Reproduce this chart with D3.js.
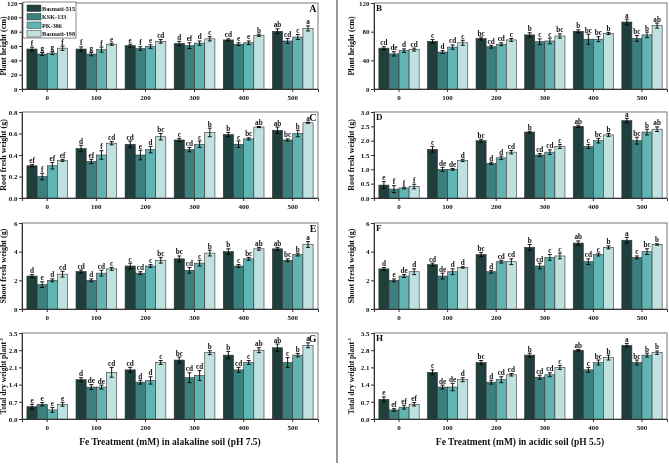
<!DOCTYPE html>
<html>
<head>
<meta charset="utf-8">
<script src="https://cdn.jsdelivr.net/npm/d3@7"></script>
<style>
  body { margin: 0; background: #fff; }
  svg { display: block; will-change: transform; }
  text { font-family: "Liberation Serif", "Times New Roman", serif; font-weight: bold; fill: #111; }
</style>
</head>
<body>
<div id="chart"></div>
<script>
// ---- data ----
var doses = ["0", "100", "200", "300", "400", "500"];
var cultivars = ["Basmati-515", "KSK-133", "PK-386", "Basmati-198"];
var colors = ["#1f3f3d", "#3b807e", "#62b4b2", "#c0e1df"];

// rows = dose, columns = cultivar
var heightAlk = [[55.8,48.8,50,57],[55.8,48.8,55,62.5],[60.5,56.5,59.3,66.5],[63.5,60.5,64,70],[68.5,62.5,64.5,75],[80.5,67,72.5,84.5]];
var heightAlkErr = [[2.5,2,2,3],[3,2.5,3.5,1.5],[2,2.5,2.5,2.5],[3,4,3,3],[1.5,2,2.5,1.5],[3.5,3.5,3.5,3.5]];
var heightAlkLet = [["f","g","g","f"],["f","g","f","e"],["e","f","e","cd"],["d","ef","d","c"],["cd","e","e","b"],["ab","cd","c","a"]];

var heightAcid = [[57,49,53.5,55],[66.5,51.5,58.5,64.5],[70.5,59,62.5,68.5],[75.5,66,67,74],[80.5,69.5,69.5,77.5],[93.5,70.5,75.5,88.5]];
var heightAcidErr = [[2,3,2.5,2],[2.5,2,3,3.5],[2,2,2,2],[3,4,4,3],[2,7,3.5,1.5],[4,4,4,3.5]];
var heightAcidLet = [["cd","de","d","cd"],["c","d","cd","c"],["bc","cd","cd","c"],["b","c","c","bc"],["b","bc","bc","b"],["a","bc","b","ab"]];

var rootAlk = [[0.3,0.2,0.3,0.35],[0.46,0.34,0.4,0.51],[0.5,0.4,0.45,0.57],[0.54,0.45,0.5,0.61],[0.59,0.5,0.55,0.66],[0.63,0.54,0.6,0.7]];
var rootAlkErr = [[0.01,0.03,0.03,0.01],[0.03,0.02,0.04,0.015],[0.03,0.045,0.03,0.03],[0.015,0.02,0.03,0.04],[0.02,0.03,0.01,0.005],[0.03,0.01,0.03,0.005]];
var rootAlkLet = [["ef","f","ef","ef"],["d","ef","f","cd"],["cd","e","d","bc"],["c","cd","c","b"],["b","c","bc","ab"],["ab","bc","b","a"]];

var rootAcid = [[0.45,0.31,0.35,0.4],[1.7,1.0,1.0,1.31],[2.0,1.21,1.4,1.6],[2.3,1.5,1.6,1.8],[2.5,1.8,2.0,2.2],[2.7,2.0,2.3,2.4]];
var rootAcidErr = [[0.12,0.12,0.03,0.08],[0.1,0.07,0.03,0.04],[0.05,0.04,0.06,0.06],[0.03,0.05,0.08,0.07],[0.04,0.07,0.08,0.05],[0.08,0.12,0.1,0.08]];
var rootAcidLet = [["e","f","f","f"],["c","de","de","d"],["bc","d","d","cd"],["b","cd","cd","c"],["ab","c","bc","b"],["a","bc","b","ab"]];

var shootAlk = [[2.3,1.7,2.0,2.43],[2.62,2.0,2.5,2.8],[3.0,2.5,3.0,3.4],[3.5,2.7,3.2,3.9],[4.0,3.0,3.5,4.2],[4.2,3.4,3.8,4.5]];
var shootAlkErr = [[0.1,0.2,0.1,0.2],[0.1,0.1,0.2,0.1],[0.2,0.1,0.1,0.2],[0.2,0.2,0.2,0.2],[0.2,0.1,0.1,0.1],[0.1,0.1,0.1,0.2]];
var shootAlkLet = [["d","e","d","cd"],["cd","d","cd","c"],["c","cd","c","bc"],["bc","cd","c","b"],["b","c","bc","ab"],["ab","bc","b","a"]];

var shootAcid = [[2.8,2.0,2.3,2.6],[3.1,2.3,2.6,2.9],[3.8,2.6,3.3,3.3],[4.3,3.0,3.6,3.7],[4.6,3.3,3.8,4.3],[4.8,3.6,4.0,4.5]];
var shootAcidErr = [[0.1,0.1,0.1,0.2],[0.1,0.2,0.2,0.05],[0.15,0.1,0.1,0.2],[0.2,0.2,0.2,0.2],[0.15,0.2,0.1,0.1],[0.2,0.1,0.2,0.05]];
var shootAcidLet = [["d","e","de","d"],["cd","de","d","d"],["bc","d","cd","cd"],["b","cd","c","c"],["ab","cd","c","b"],["a","c","bc","b"]];

var dryAlk = [[0.5,0.6,0.37,0.6],[1.6,1.3,1.3,1.9],[2.0,1.5,1.57,2.3],[2.4,1.68,1.77,2.7],[2.6,2.0,2.3,2.8],[2.9,2.3,2.6,3.0]];
var dryAlkErr = [[0.1,0.07,0.1,0.08],[0.08,0.1,0.08,0.2],[0.1,0.08,0.15,0.08],[0.12,0.2,0.2,0.08],[0.15,0.1,0.08,0.1],[0.15,0.2,0.07,0.1]];
var dryAlkLet = [["e","e","e","e"],["d","de","de","cd"],["cd","d","d","c"],["bc","cd","cd","b"],["b","cd","c","ab"],["ab","c","b","a"]];

var dryAcid = [[0.8,0.37,0.48,0.6],[1.9,1.3,1.3,1.6],[2.3,1.5,1.6,1.8],[2.6,1.7,1.8,2.1],[2.8,2.0,2.3,2.5],[3.0,2.3,2.6,2.7]];
var dryAcidErr = [[0.1,0.05,0.08,0.07],[0.1,0.08,0.15,0.08],[0.08,0.08,0.12,0.05],[0.08,0.08,0.08,0.08],[0.03,0.1,0.1,0.1],[0.07,0.1,0.08,0.07]];
var dryAcidLet = [["e","ef","ef","ef"],["c","de","de","d"],["bc","d","cd","cd"],["b","cd","cd","c"],["ab","c","bc","b"],["a","bc","b","b"]];

var W = 669, H = 466;
var svg = d3.select("#chart").append("svg").attr("width", W).attr("height", H);

// layout for the two columns and four rows
var cols = [{x0: 22, x1: 318, tag: "right", titleOff: 16}, {x0: 374, x1: 667, tag: "left", titleOff: 20}];
var rows = [{y0: 3, y1: 89}, {y0: 112, y1: 198}, {y0: 223, y1: 309}, {y0: 333, y1: 419}];

var panels = [
  {c: 0, r: 0, id: "A", data: heightAlk, err: heightAlkErr, lets: heightAlkLet, max: 120, ticks: [0,20,40,60,80,100,120], fmt: "d", title: "Plant height (cm)", legend: true},
  {c: 1, r: 0, id: "B", data: heightAcid, err: heightAcidErr, lets: heightAcidLet, max: 120, ticks: [0,40,80,120], fmt: "d", title: "Plant height (cm)"},
  {c: 0, r: 1, id: "C", data: rootAlk, err: rootAlkErr, lets: rootAlkLet, max: 0.8, ticks: [0,0.2,0.4,0.6,0.8], fmt: ".1f", title: "Root fresh weight (g)"},
  {c: 1, r: 1, id: "D", data: rootAcid, err: rootAcidErr, lets: rootAcidLet, max: 3, ticks: [0,0.5,1,1.5,2,2.5,3], fmt: ".1f", title: "Root fresh weight (g)"},
  {c: 0, r: 2, id: "E", data: shootAlk, err: shootAlkErr, lets: shootAlkLet, max: 6, ticks: [0,2,4,6], fmt: "d", title: "Shoot fresh weight (g)"},
  {c: 1, r: 2, id: "F", data: shootAcid, err: shootAcidErr, lets: shootAcidLet, max: 6, ticks: [0,2,4,6], fmt: "d", title: "Shoot fresh weight (g)"},
  {c: 0, r: 3, id: "G", data: dryAlk, err: dryAlkErr, lets: dryAlkLet, max: 3.5, ticks: [0,0.7,1.4,2.1,2.8,3.5], fmt: ".1f", title: "Total dry weight plant", sup: true},
  {c: 1, r: 3, id: "H", data: dryAcid, err: dryAcidErr, lets: dryAcidLet, max: 3.5, ticks: [0,0.7,1.4,2.1,2.8,3.5], fmt: ".1f", title: "Total dry weight plant", sup: true}
];

panels.forEach(function(p) {
  var col = cols[p.c], row = rows[p.r];
  var x = d3.scaleBand().domain(doses).range([col.x0, col.x1]).paddingInner(0.17).paddingOuter(0.1);
  var xs = d3.scaleBand().domain(d3.range(4)).range([0, x.bandwidth()]);
  var y = d3.scaleLinear().domain([0, p.max]).range([row.y1, row.y0]);
  var g = svg.append("g");

  // frame
  g.append("rect").attr("x", col.x0).attr("y", row.y0)
    .attr("width", col.x1 - col.x0).attr("height", row.y1 - row.y0)
    .attr("fill", "none").attr("stroke", "#555").attr("stroke-width", 0.8);

  // bars
  p.data.forEach(function(vals, i) {
    vals.forEach(function(v, j) {
      var bx = x(doses[i]) + xs(j), bw = xs.bandwidth();
      g.append("rect").attr("x", bx).attr("y", y(v))
        .attr("width", bw).attr("height", y(0) - y(v))
        .attr("fill", colors[j]).attr("stroke", "#333").attr("stroke-width", 0.6);
      var cx = bx + bw / 2, e = p.err[i][j];
      g.append("line").attr("x1", cx).attr("x2", cx).attr("y1", y(v - e)).attr("y2", y(v + e))
        .attr("stroke", "#000").attr("stroke-width", 0.9);
      [v - e, v + e].forEach(function(t) {
        g.append("line").attr("x1", cx - 2).attr("x2", cx + 2).attr("y1", y(t)).attr("y2", y(t))
          .attr("stroke", "#000").attr("stroke-width", 0.9);
      });
      g.append("text").attr("x", cx).attr("y", y(v + e) - 1.5)
        .attr("text-anchor", "middle").attr("font-size", 7.2).text(p.lets[i][j]);
    });
  });

  // axes
  var ya = g.append("g").attr("transform", "translate(" + col.x0 + ",0)")
    .call(d3.axisLeft(y).tickValues(p.ticks).tickFormat(d3.format(p.fmt)).tickSize(3).tickPadding(1.5));
  var xa = g.append("g").attr("transform", "translate(0," + row.y1 + ")")
    .call(d3.axisBottom(x).tickSize(3).tickPadding(3));
  [ya, xa].forEach(function(a) {
    a.select(".domain").attr("stroke", "#333");
    a.selectAll("line").attr("stroke", "#333");
    a.selectAll("text").attr("font-family", "Liberation Serif, serif").attr("font-weight", "bold")
      .attr("font-size", 7).attr("fill", "#111");
  });

  // y title
  var tx = col.x0 - col.titleOff, ty = (row.y0 + row.y1) / 2;
  var t = g.append("text").attr("transform", "translate(" + tx + "," + ty + ") rotate(-90)")
    .attr("text-anchor", "middle").attr("font-size", p.sup ? 7.6 : 8).text(p.title);
  if (p.sup) t.append("tspan").attr("dy", -3).attr("font-size", 5).text("-1");

  // panel letter
  if (col.tag === "right") {
    g.append("text").attr("x", col.x1 - 1.5).attr("y", row.y0 + 9).attr("text-anchor", "end")
      .attr("font-size", 10).text(p.id);
  } else {
    g.append("text").attr("x", col.x0 + 2).attr("y", row.y0 + 8).attr("font-size", 9).text(p.id);
  }

  // legend
  if (p.legend) {
    var lg = g.append("g").attr("transform", "translate(23," + (row.y0 - 1) + ")");
    lg.append("rect").attr("width", 53).attr("height", 36).attr("fill", "#fff")
      .attr("stroke", "#555").attr("stroke-width", 0.7);
    cultivars.forEach(function(c, j) {
      lg.append("rect").attr("x", 4).attr("y", 3 + j * 8.5).attr("width", 14).attr("height", 6.5)
        .attr("fill", colors[j]).attr("stroke", "#333").attr("stroke-width", 0.5);
      lg.append("text").attr("x", 19).attr("y", 8.8 + j * 8.5).attr("font-size", 6.2).text(c);
    });
  }
});

// x titles
svg.append("text").attr("x", 170).attr("y", 445).attr("text-anchor", "middle")
  .attr("font-size", 9.5).text("Fe Treatment (mM) in alakaline soil (pH 7.5)");
svg.append("text").attr("x", 520).attr("y", 445).attr("text-anchor", "middle")
  .attr("font-size", 9.5).text("Fe Treatment (mM) in acidic soil (pH 5.5)");

// divider
svg.append("line").attr("x1", 337).attr("x2", 337).attr("y1", 0).attr("y2", 463)
  .attr("stroke", "#333").attr("stroke-width", 1);
</script>
</body>
</html>
